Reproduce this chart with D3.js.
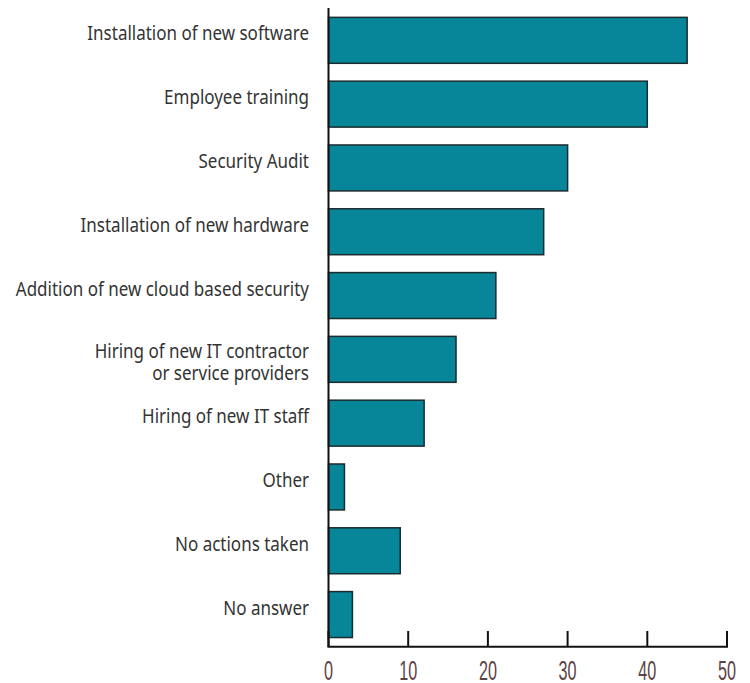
<!doctype html>
<html lang="en">
<head>
<meta charset="UTF-8" />
<title>IT security actions</title>
<script src="https://cdnjs.cloudflare.com/ajax/libs/d3/7.8.5/d3.min.js"></script>
<style>
  body { margin: 0; background: #fff; }
  .label { font-family: "Noto Sans", "Open Sans", sans-serif; font-size: 20px; fill: #333; }
  .tick-label { font-family: "Liberation Sans", "DejaVu Sans", sans-serif; font-size: 27px; fill: #5b4444; }
</style>
</head>
<body>
<div id="graph"></div>
<script>
// chart data
var categories = [
  "Installation of new software",
  "Employee training",
  "Security Audit",
  "Installation of new hardware",
  "Addition of new cloud based security",
  "Hiring of new IT contractor\nor service providers",
  "Hiring of new IT staff",
  "Other",
  "No actions taken",
  "No answer"
];
var values = [45, 40, 30, 27, 21, 16, 12, 2, 9, 3];
var tickValues = [0, 10, 20, 30, 40, 50];

var width = 750, height = 683;
var axisY = 646.7;
var labelX = 309;

var svg = d3.select("#graph").append("svg")
    .attr("width", width)
    .attr("height", height);

var x = d3.scaleLinear().domain([0, 50]).range([328.5, 727]);
var y = d3.scaleBand().domain(categories).range([-0.5, 655.4])
    .paddingInner(0.28).paddingOuter(0.28);

// bars
svg.append("g").selectAll("rect")
    .data(values)
    .enter().append("rect")
    .attr("x", x(0))
    .attr("y", (d, i) => y(categories[i]))
    .attr("width", d => x(d) - x(0))
    .attr("height", y.bandwidth())
    .attr("fill", "#078699")
    .attr("stroke", "#1c2b2e")
    .attr("stroke-width", 1.5);

// category labels (narrowed a bit to look like the original typeface)
var labels = svg.append("g").selectAll("text")
    .data(categories)
    .enter().append("text")
    .attr("class", "label")
    .attr("text-anchor", "end")
    .attr("transform", d => "translate(" + labelX + "," + (y(d) + y.bandwidth() / 2) + ") scale(0.85,1)");

labels.each(function(d) {
    var lines = d.split("\n");
    var t = d3.select(this);
    lines.forEach(function(line, i) {
        t.append("tspan")
            .attr("x", 0)
            .attr("dy", i === 0 ? (lines.length > 1 ? -1 : 0) : 22)
            .text(line);
    });
});

// vertical axis line
svg.append("line")
    .attr("x1", x(0)).attr("x2", x(0))
    .attr("y1", 8).attr("y2", axisY)
    .attr("stroke", "#111").attr("stroke-width", 2);

// horizontal axis line
svg.append("line")
    .attr("x1", x(0) - 1).attr("x2", x(50) + 1)
    .attr("y1", axisY).attr("y2", axisY)
    .attr("stroke", "#111").attr("stroke-width", 2);

// tick marks (pointing up)
svg.append("g").selectAll("line")
    .data(tickValues)
    .enter().append("line")
    .attr("x1", d => x(d)).attr("x2", d => x(d))
    .attr("y1", axisY).attr("y2", 631)
    .attr("stroke", "#111").attr("stroke-width", 2);

// tick labels, condensed
svg.append("g").selectAll("text")
    .data(tickValues)
    .enter().append("text")
    .attr("class", "tick-label")
    .attr("text-anchor", "middle")
    .attr("transform", d => "translate(" + x(d) + ",679.5) scale(0.6,1)")
    .text(d => d);
</script>
</body>
</html>
